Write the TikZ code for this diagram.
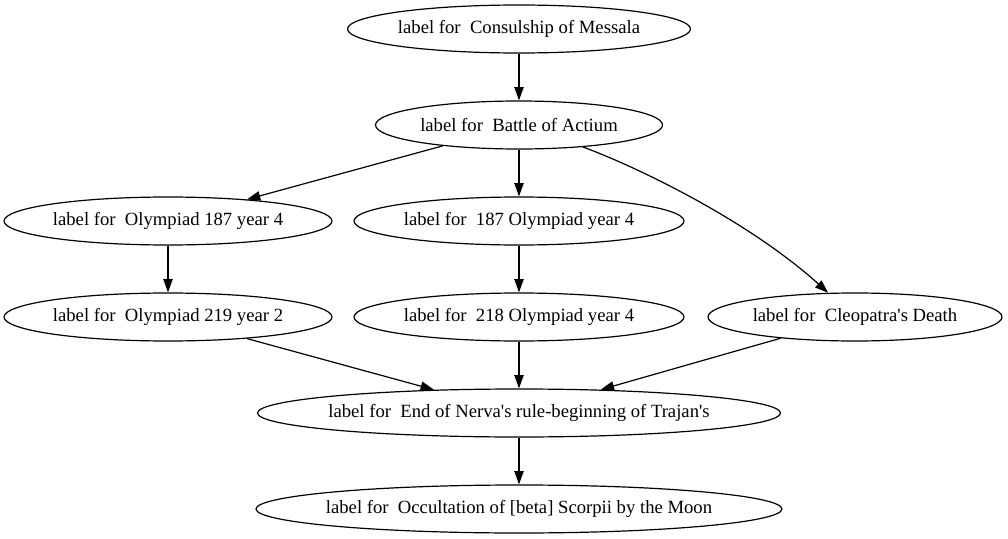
\documentclass[tikz,border=0pt]{standalone}
\usepackage{fontspec}
\setmainfont{Liberation Serif}
\usetikzlibrary{shapes.geometric,arrows.meta}
\tikzset{event/.style={draw,ellipse,inner sep=0pt,minimum height=36pt,line width=0.9pt},
         link/.style={draw,line width=0.9pt,-{Triangle[length=10pt,width=7pt]}},
         every label/.style={inner sep=0pt}}

\begin{document}
\begin{tikzpicture}[x=0.75pt,y=-0.75pt,font=\fontsize{14}{16}\selectfont]
  \useasboundingbox (0,0) rectangle (1008,539);
  \node[event,minimum width=257.25pt,label=center:{label for\ \ Consulship of Messala}] (messala) at (519,29) {};
  \node[event,minimum width=215.25pt,label=center:{label for\ \ Battle of Actium}] (actium) at (519,125) {};
  \node[event,minimum width=246pt,label=center:{label for\ \ Olympiad 187 year 4}] (olyA) at (168,221) {};
  \node[event,minimum width=247.5pt,label=center:{label for\ \ 187 Olympiad year 4}] (olyB) at (519,221) {};
  \node[event,minimum width=246pt,label=center:{label for\ \ Olympiad 219 year 2}] (olyC) at (168,317) {};
  \node[event,minimum width=247.5pt,label=center:{label for\ \ 218 Olympiad year 4}] (olyD) at (519,317) {};
  \node[event,minimum width=220.5pt,label=center:{label for\ \ Cleopatra\textquotesingle s Death}] (cleo) at (855,317) {};
  \node[event,minimum width=392.25pt,label=center:{label for\ \ End of Nerva\textquotesingle s rule-beginning of Trajan\textquotesingle s}] (nerva) at (519,413) {};
  \node[event,minimum width=394.5pt,label=center:{label for\ \ Occultation of [beta] Scorpii by the Moon}] (scorpii) at (519,509) {};

  \draw[link] (messala) -- (actium);
  \draw[link] (actium) -- (olyA);
  \draw[link] (actium) -- (olyB);
  \draw[link] (actium.-19) .. controls (640,168) and (750,222) .. (cleo.138);
  \draw[link] (olyA) -- (olyC);
  \draw[link] (olyB) -- (olyD);
  \draw[link] (olyC) -- (nerva);
  \draw[link] (olyD) -- (nerva);
  \draw[link] (cleo) -- (nerva);
  \draw[link] (nerva) -- (scorpii);
\end{tikzpicture}
\end{document}
